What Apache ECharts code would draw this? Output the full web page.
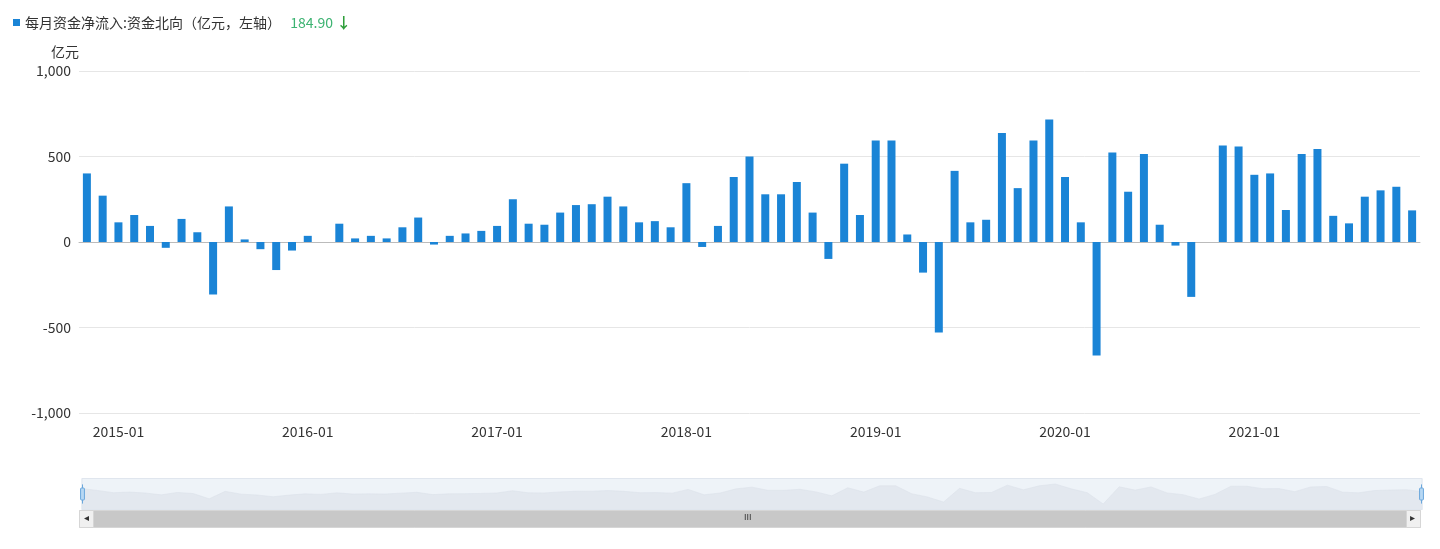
<!DOCTYPE html>
<html><head><meta charset="utf-8">
<script src="https://cdn.jsdelivr.net/npm/echarts@6/dist/echarts.min.js"></script>
<style>html,body{margin:0;padding:0;background:#fff}#c{width:1440px;height:549px}</style>
</head><body><div id="c"></div>
<script>
const seriesName = '每月资金净流入:资金北向（亿元，左轴）';
const months = [];
for (let y = 2014, m = 11; !(y === 2021 && m === 12); ) {
  months.push(y + '-' + String(m).padStart(2, '0'));
  m++; if (m > 12) { m = 1; y++; }
}
const values = [401,271,115,158,94,-34,135,57,-307,208,15,-42,-164,-50,36,0,107,21,36,21,86,143,-15,36,50,65,94,250,107,101,172,216,221,265,208,115,122,86,344,-29,94,380,500,279,279,351,172,-99,458,158,594,594,44,-179,-529,416,115,130,637,315,594,716,380,115,-664,523,294,515,101,-21,-321,0,565,559,393,401,187,515,544,153,109,265,302,323,184.9];
const yTicks = [-1000, -500, 0, 500, 1000];

const chart = echarts.init(document.getElementById('c'));
const isJan = (i) => months[i].endsWith('-01');
chart.setOption({
  animation: false,
  textStyle: { fontFamily: 'Noto Sans CJK SC, Noto Sans, sans-serif' },
  legend: {
    left: 8, top: 10, itemWidth: 7, itemHeight: 7, icon: 'rect',
    selectedMode: false,
    formatter: (n) => n + '{v|   ' + values[values.length - 1].toFixed(2) + ' }{a|↓}',
    textStyle: { fontSize: 14, color: '#333',
      rich: { v: { color: '#3cb371', fontSize: 14 }, a: { color: '#2e9e3a', fontSize: 15, fontWeight: 'bold' } } }
  },
  grid: { left: 79, right: 20, top: 71, bottom: 136 },
  xAxis: {
    type: 'category', data: months, boundaryGap: true,
    axisLine: { lineStyle: { color: '#bbb' } },
    axisTick: { alignWithLabel: true, interval: (i) => isJan(i), lineStyle: { color: '#bbb' } },
    axisLabel: { interval: (i) => isJan(i), color: '#333', fontSize: 14, margin: 12 }
  },
  yAxis: {
    type: 'value', min: yTicks[0], max: yTicks[yTicks.length - 1], interval: 500,
    name: '亿元', nameLocation: 'end', nameGap: 12,
    nameTextStyle: { color: '#333', fontSize: 14, align: 'right', padding: [0, 0, 0, 0] },
    axisLabel: { color: '#333', fontSize: 14 },
    splitLine: { lineStyle: { color: '#e6e6e6' } },
    axisLine: { show: false }, axisTick: { show: false }
  },
  dataZoom: [{
    type: 'slider', xAxisIndex: 0, left: 79, right: 20, top: 478, height: 32,
    start: 0, end: 100, showDetail: false,
    backgroundColor: '#f5f8fb', borderColor: '#e0e6ee',
    fillerColor: 'rgba(220,228,238,0.25)',
    handleSize: '60%', handleStyle: { color: '#b8d8f3', borderColor: '#6aa7dc' },
    moveHandleSize: 0,
    dataBackground: { lineStyle: { color: '#d8dee6' }, areaStyle: { color: '#e6eaef', opacity: 1 } },
    selectedDataBackground: { lineStyle: { color: '#d8dee6' }, areaStyle: { color: '#e6eaef', opacity: 1 } }
  }],
  graphic: [
    { type: 'rect', left: 79, top: 510, shape: { width: 1341, height: 17 }, style: { fill: '#c8c8c8', stroke: '#d6d6d6' } },
    { type: 'rect', left: 79, top: 510, shape: { width: 14, height: 17 }, style: { fill: '#f0f0f0', stroke: '#d6d6d6' } },
    { type: 'rect', left: 1406, top: 510, shape: { width: 14, height: 17 }, style: { fill: '#f0f0f0', stroke: '#d6d6d6' } },
    { type: 'text', left: 84, top: 513, style: { text: '◂', fill: '#333', fontSize: 10 } },
    { type: 'text', left: 1410, top: 513, style: { text: '▸', fill: '#333', fontSize: 10 } },
    { type: 'text', left: 744, top: 513, style: { text: 'III', fill: '#333', fontSize: 9 } }
  ],
  series: [{
    name: seriesName, type: 'bar', data: values, barWidth: 8,
    itemStyle: { color: '#1a84d6' }
  }]
});
</script></body></html>
